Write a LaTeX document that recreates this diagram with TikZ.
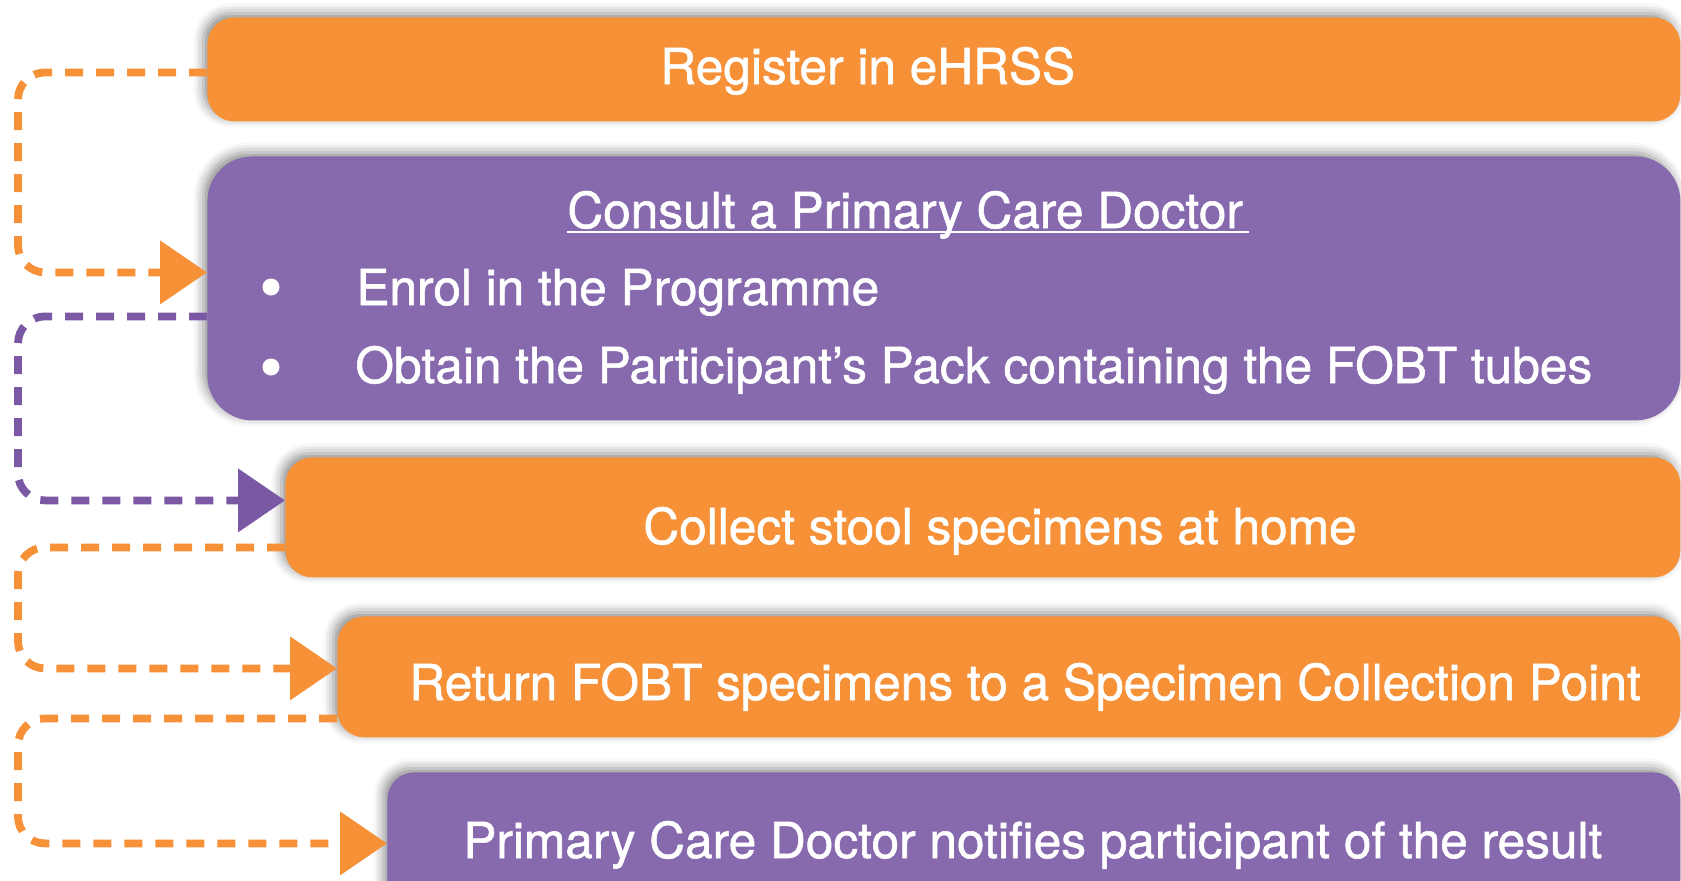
\documentclass[tikz,border=0pt]{standalone}
\usepackage{fontspec}
\setmainfont[FakeBold=1.2]{TeX Gyre Heros}
\usetikzlibrary{arrows.meta,shadows.blur}

\definecolor{ehrssorange}{HTML}{F69138}
\definecolor{ehrsspurple}{HTML}{8769AE}
\definecolor{linkpurple}{HTML}{7B58A3}

\tikzset{
  stagebox/.style={anchor=north west, inner sep=0pt, rounded corners=13.5pt,
    blur shadow={shadow xshift=-2pt, shadow yshift=2pt, shadow blur radius=5pt, shadow opacity=45}},
  orangebox/.style={stagebox, fill=ehrssorange},
  purplebox/.style={stagebox, fill=ehrsspurple},
  steptext/.style={anchor=base west, inner sep=0pt, text=white, font=\fontsize{24.8}{29}\selectfont},
  bulletdot/.style={circle, fill=white, inner sep=0pt, minimum size=8.5pt},
  link/.style={line width=3.9pt, dash pattern=on 9pt off 6.5pt, rounded corners=13.5pt,
    -{Triangle[length=23.5pt,width=31pt]}},
  orangelink/.style={link, draw=ehrssorange},
  purplelink/.style={link, draw=linkpurple},
}

\begin{document}
\begin{tikzpicture}[x=0.5pt,y=-0.5pt]
    \useasboundingbox (0,0) rectangle (1681,880);

    % stages
    \node[orangebox, minimum width=736.5pt, minimum height=52pt] (reg) at (207,17) {};
    \node[purplebox, minimum width=736.5pt, minimum height=132pt, rounded corners=22.5pt] (consult) at (207,156) {};
    \node[orangebox, minimum width=697.5pt, minimum height=60pt] (collect) at (285,457) {};
    \node[orangebox, minimum width=671.5pt, minimum height=60.5pt] (ret) at (337,616) {};
    \node[purplebox, minimum width=646.5pt, minimum height=71pt] (notify) at (387,772) {};

    % texts
    \node[steptext] (regtext) at (660,84) {Register in eHRSS};
    \node[steptext] (consulttitle) at (567,228) {Consult a Primary Care Doctor\ };
    \draw[white, line width=1pt] ([yshift=-2pt]consulttitle.base west) -- ([yshift=-2pt,xshift=3pt]consulttitle.base east);
    \node[bulletdot] (dotenrol) at (271,287) {};
    \node[steptext] (enroltext) at (356,305) {Enrol in the Programme};
    \node[bulletdot] (dotpack) at (271,367) {};
    \node[steptext] (packtext) at (355,383) {Obtain the Participant’s Pack containing the FOBT tubes};
    \node[steptext] (collecttext) at (643,544) {Collect stool specimens at home};
    \node[steptext] (returntext) at (409,700) {Return FOBT specimens to a Specimen Collection Point};
    \node[steptext] (notifytext) at (463,858) {Primary Care Doctor notifies participant of the result};

    % links
    \draw[orangelink] ([yshift=-1.5pt]reg.west) -- ++(-189,0) |- ([yshift=8pt]consult.west);
    \draw[purplelink] ([yshift=-14pt]consult.west) -- ++(-189,0) |- ([yshift=8.5pt]collect.west);
    \draw[orangelink] ([yshift=-15pt]collect.west) -- ++(-267,0) |- ([yshift=4.25pt]ret.west);
    \draw[orangelink] ([yshift=-20.75pt]ret.west) -- ++(-319,0) |- (notify.west);
\end{tikzpicture}
\end{document}
